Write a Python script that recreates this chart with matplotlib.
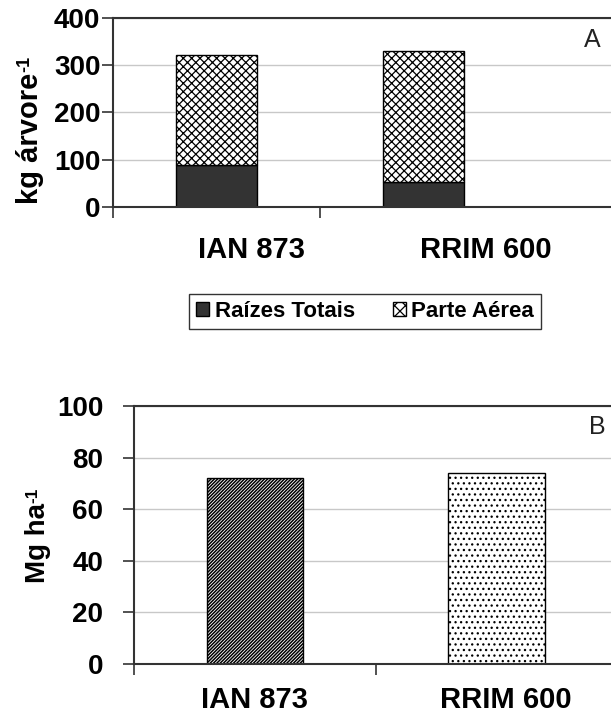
import numpy as np
import matplotlib
matplotlib.use("Agg")
import matplotlib.pyplot as plt
from matplotlib.patches import Patch

plt.rcParams['font.family'] = ['Liberation Sans', 'DejaVu Sans']
plt.rcParams['hatch.linewidth'] = 0.9

clones = ["IAN 873", "RRIM 600"]
raizes = [88, 52]          # kg arvore-1
parte_aerea = [235, 278]   # kg arvore-1
biomassa = [72, 74]        # Mg ha-1
yticks_a = [0, 100, 200, 300, 400]
yticks_b = [0, 20, 40, 60, 80, 100]


def style_axes(ax, yticks, xmax, label_pos, ypad, xpad):
    ax.set_xlim(-0.5, xmax)
    ax.set_ylim(yticks[0], yticks[-1])
    ax.set_yticks(yticks)
    ax.set_yticklabels([str(t) for t in yticks], fontsize=20, fontweight='bold')
    ax.set_xticks([-0.5, 0.5])
    ax.set_xticklabels([])
    ax.set_xticks(label_pos, minor=True)
    ax.set_xticklabels(clones, minor=True, fontsize=21, fontweight='bold')
    ax.tick_params(axis='x', which='minor', length=0, pad=xpad)
    ax.tick_params(axis='x', which='major', length=8, width=1.2, color='#333333')
    ax.tick_params(axis='y', length=8, width=1.2, color='#333333', pad=ypad)
    ax.grid(axis='y', color='#c8c8c8', linewidth=1)
    ax.set_axisbelow(True)
    ax.spines['right'].set_visible(False)
    for s in ['left', 'bottom', 'top']:
        ax.spines[s].set_color('#333333')
        ax.spines[s].set_linewidth(1.5)


def label_with_sup(ax, text, x, y, size):
    lab = ax.figure.text(x, y, text, rotation=90, ha='center', va='center',
                         fontsize=size, fontweight='bold')
    ax.annotate('-1', xy=(0.0, 1.0), xycoords=lab, rotation=90, ha='left',
                va='bottom', fontsize=size * 0.62, fontweight='bold')


fig = plt.figure(figsize=(6.11, 7.23), dpi=100)

# Painel A
axA = fig.add_axes([113 / 611, 1 - 206.7 / 723, 498 / 611, 188.4 / 723])
x = np.arange(len(clones))
axA.bar(x, raizes, width=0.396, color='#333333', edgecolor='black', linewidth=1)
axA.bar(x, parte_aerea, width=0.396, bottom=raizes, color='white',
        edgecolor='black', hatch='xxxx', linewidth=1)
style_axes(axA, yticks_a, -0.5 + 498 / 207, [0.17, 1.30], 1, 21)
label_with_sup(axA, 'kg árvore', 30 / 611, 1 - 138 / 723, 21)
fig.text(592 / 611, 1 - 40 / 723, 'A', fontsize=18, ha='center', va='center',
         color='#222222')

leg_handles = [Patch(facecolor='#333333', edgecolor='black', label='Raízes Totais'),
               Patch(facecolor='white', edgecolor='black', hatch='xxx', label='Parte Aérea')]
fig.legend(handles=leg_handles, loc='center', bbox_to_anchor=(365 / 611, 1 - 311.5 / 723),
           ncol=2, frameon=True, fancybox=False, edgecolor='black',
           prop={'weight': 'bold', 'size': 16}, handlelength=0.6, handleheight=0.6,
           handletextpad=0.25, columnspacing=1.7, borderpad=0.3, borderaxespad=0)

# Painel B
axB = fig.add_axes([134 / 611, 1 - 663.7 / 723, 477 / 611, 257.7 / 723])
b1 = axB.bar([0], biomassa[:1], width=0.40, color='white', edgecolor='black',
             hatch='/' * 10, linewidth=1)
b2 = axB.bar([1], biomassa[1:], width=0.40, color='white', edgecolor='black',
             hatch='...', linewidth=1)
for p in b1:
    if hasattr(p, 'set_hatch_linewidth'):
        p.set_hatch_linewidth(1.1)
style_axes(axB, yticks_b, -0.5 + 477 / 241.7, [0.0, 1.04], 14, 16)
label_with_sup(axB, 'Mg ha', 38 / 611, 1 - 543 / 723, 20)
fig.text(597 / 611, 1 - 427 / 723, 'B', fontsize=18, ha='center', va='center',
         color='#222222')

fig.savefig('out.png', dpi=100)
